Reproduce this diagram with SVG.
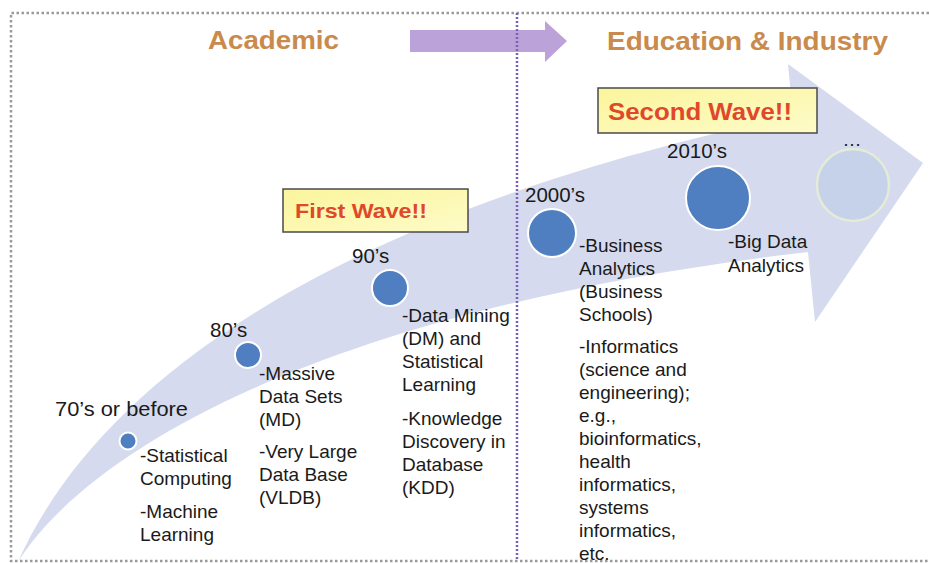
<svg xmlns="http://www.w3.org/2000/svg" width="929" height="563" viewBox="0 0 929 563">
<defs>
<style>
.t{font-family:"Liberation Sans",Arial,sans-serif;font-size:19px;fill:#1a1a1a}
.yr{font-family:"Liberation Sans",Arial,sans-serif;font-size:20.5px;fill:#1a1a1a}
.hd{font-family:"Liberation Sans",Arial,sans-serif;font-size:26px;font-weight:bold;fill:#c98a4c}
.wv{font-family:"Liberation Sans",Arial,sans-serif;font-weight:bold;fill:#e0482c}
.dot{fill:#4f7fc1;stroke:#ffffff;stroke-width:2}
.box{fill:url(#yel);stroke:#4a4a4a;stroke-width:1.5}
.border{fill:none;stroke:#9a9a9a;stroke-width:2.5;stroke-dasharray:2.5 2.5}
</style>
<linearGradient id="yel" x1="0" y1="0" x2="1" y2="1">
<stop offset="0" stop-color="#fbf59c"/>
<stop offset="1" stop-color="#fdfbc8"/>
</linearGradient>
</defs>
<rect width="929" height="563" fill="#ffffff"/>
<g id="connectors">
<path id="big-arrow" d="M18,562 C90,400 300,220 793,116 L788,64 L923,163 L815,322 L808,252 C350,305 95,440 18,562 Z" fill="#d5daee"/>
<path id="phase-arrow" d="M410,30 L545,30 L545,21 L567,41 L545,62 L545,52 L410,52 Z" fill="#bba3d9"/>
</g>
<g id="frame">
<path class="border" d="M929,13 L11,13 L11,561 L929,561"/>
<line x1="517" y1="13" x2="517" y2="561" stroke="#7a62b8" stroke-width="2.5" stroke-dasharray="2 2"/>
</g>
<g id="header-academic"><text class="hd" x="208" y="49" textLength="131" lengthAdjust="spacingAndGlyphs">Academic</text></g>
<g id="header-industry"><text class="hd" x="607" y="50" textLength="281" lengthAdjust="spacingAndGlyphs">Education &amp; Industry</text></g>
<g id="first-wave">
<rect class="box" x="283" y="189" width="185" height="43"/>
<text class="wv" x="295" y="218" font-size="21" textLength="132" lengthAdjust="spacingAndGlyphs">First Wave!!</text>
</g>
<g id="second-wave">
<rect class="box" x="598" y="88" width="219" height="45"/>
<text class="wv" x="608" y="120" font-size="24" textLength="184" lengthAdjust="spacingAndGlyphs">Second Wave!!</text>
</g>
<g id="node-70s">
<circle class="dot" cx="128" cy="441" r="8.5"/>
<text class="yr" x="55" y="416" textLength="133" lengthAdjust="spacingAndGlyphs">70’s or before</text>
<text class="t" x="140"><tspan x="140" y="462">-Statistical</tspan><tspan x="140" y="485">Computing</tspan><tspan x="140" y="518">-Machine</tspan><tspan x="140" y="541">Learning</tspan></text>
</g>
<g id="node-80s">
<circle class="dot" cx="248" cy="355" r="13"/>
<text class="yr" x="210" y="337">80’s</text>
<text class="t"><tspan x="259" y="380">-Massive</tspan><tspan x="259" y="403">Data Sets</tspan><tspan x="259" y="426">(MD)</tspan><tspan x="259" y="458">-Very Large</tspan><tspan x="259" y="481">Data Base</tspan><tspan x="259" y="504">(VLDB)</tspan></text>
</g>
<g id="node-90s">
<circle class="dot" cx="390" cy="288" r="18"/>
<text class="yr" x="352" y="263">90’s</text>
<text class="t"><tspan x="402" y="322">-Data Mining</tspan><tspan x="402" y="345">(DM) and</tspan><tspan x="402" y="368">Statistical</tspan><tspan x="402" y="391">Learning</tspan><tspan x="402" y="425">-Knowledge</tspan><tspan x="402" y="448">Discovery in</tspan><tspan x="402" y="471">Database</tspan><tspan x="402" y="494">(KDD)</tspan></text>
</g>
<g id="node-2000s">
<circle class="dot" cx="552" cy="233" r="24"/>
<text class="yr" x="525" y="202">2000’s</text>
<text class="t"><tspan x="579" y="252">-Business</tspan><tspan x="579" y="275">Analytics</tspan><tspan x="579" y="298">(Business</tspan><tspan x="579" y="321">Schools)</tspan><tspan x="579" y="353">-Informatics</tspan><tspan x="579" y="376">(science and</tspan><tspan x="579" y="399">engineering);</tspan><tspan x="579" y="422">e.g.,</tspan><tspan x="579" y="445">bioinformatics,</tspan><tspan x="579" y="468">health</tspan><tspan x="579" y="491">informatics,</tspan><tspan x="579" y="514">systems</tspan><tspan x="579" y="537">informatics,</tspan><tspan x="579" y="560">etc.</tspan></text>
</g>
<g id="node-2010s">
<circle class="dot" cx="718" cy="198" r="32"/>
<text class="yr" x="667" y="158">2010’s</text>
<text class="t"><tspan x="728" y="248">-Big Data</tspan><tspan x="728" y="272">Analytics</tspan></text>
</g>
<g id="node-future">
<circle cx="853" cy="185" r="36" fill="#c6d1ea" stroke="#e3ecd6" stroke-width="2.5"/>
<text class="t" x="852" y="146" text-anchor="middle" font-size="15">…</text>
</g>
</svg>
